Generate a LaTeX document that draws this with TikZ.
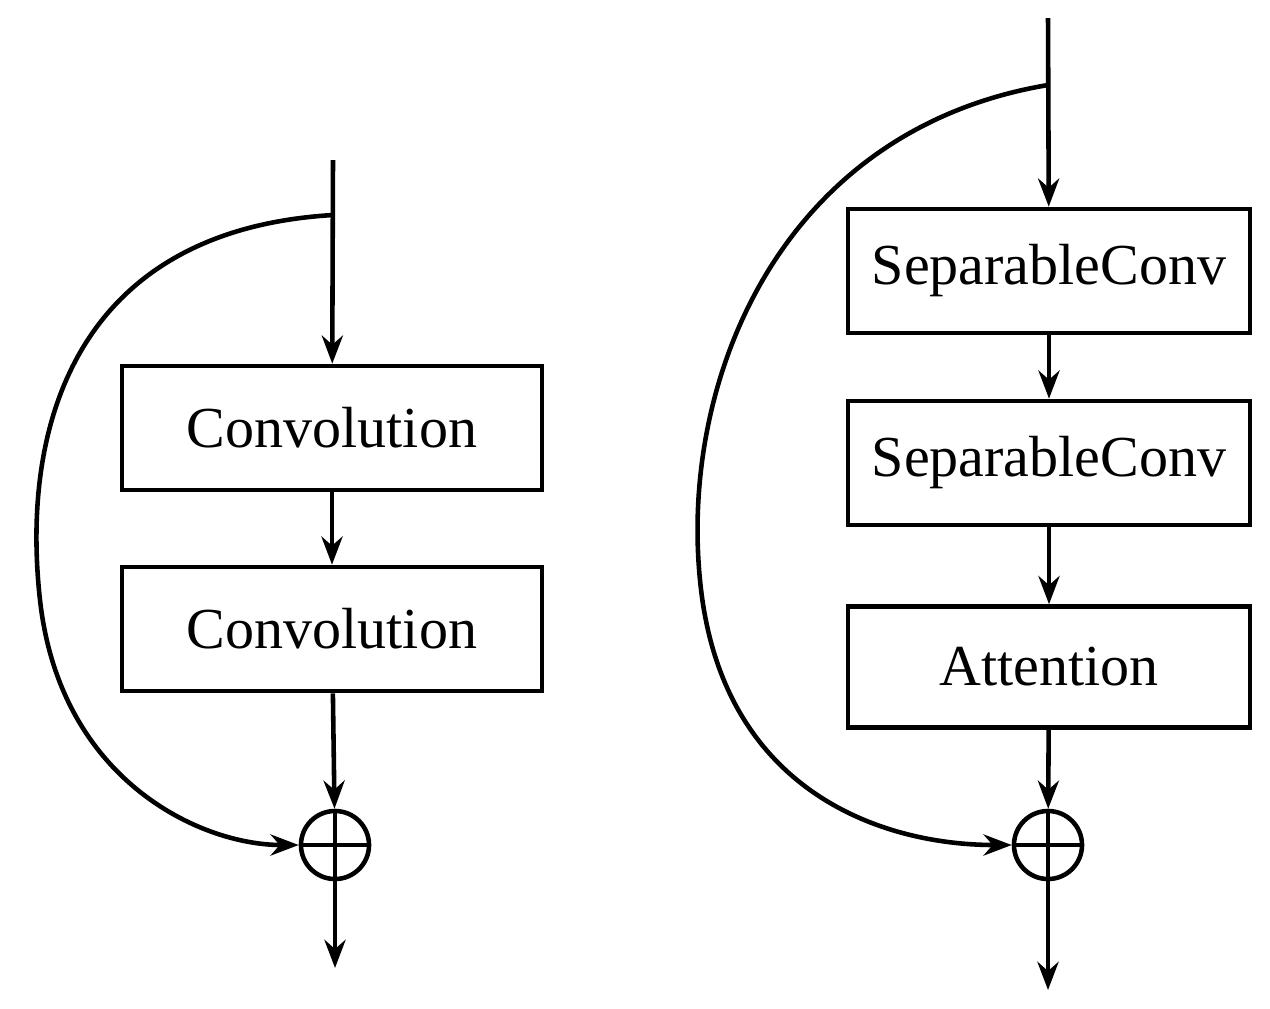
\documentclass[tikz,border=0pt]{standalone}
\usepackage{fontspec}
\setmainfont{Liberation Serif}
\usetikzlibrary{arrows.meta}
\begin{document}
\begin{tikzpicture}
[
  x=0.01cm, y=-0.01cm,
  block/.style = {draw, line width=1.3pt, minimum width=4.2cm, minimum height=1.24cm, font=\fontsize{16.5}{18}\selectfont, inner sep=0pt},
  sum/.style = {draw, circle, line width=1.3pt, minimum size=0.68cm, inner sep=0pt},
  flow/.style = {line width=1.3pt, -{Stealth[length=8pt,width=6pt]}},
]
\useasboundingbox (0,0) rectangle (1270,1008);

%left block
\coordinate (Lin) at (333,160);
\coordinate (Lsplit) at (333,215);
\node[block] (conva) at (332,428) {Convolution};
\node[block] (convb) at (332,629) {Convolution};
\node[sum] (Lsum) at (335,845) {};
\draw[line width=1.3pt] (Lsum.north) -- (Lsum.south) (Lsum.west) -- (Lsum.east);
\coordinate (Lout) at (335,968);
\draw[flow] (Lin) -- (conva);
\draw[flow] (conva) -- (convb);
\draw[flow] (convb) -- (Lsum);
\draw[flow] (Lsum) -- (Lout);
\draw[flow] (Lsplit) .. controls (80,230) and (20,420) .. (40,600)
  .. controls (60,780) and (200,845) .. (Lsum.west);

%right block
\coordinate (Rin) at (1048,18);
\coordinate (Rsplit) at (1048,85);
\node[block, minimum width=4.02cm] (sepa) at (1049,271) {SeparableConv};
\node[block, minimum width=4.02cm] (sepb) at (1049,463) {SeparableConv};
\node[block, minimum width=4.02cm, minimum height=1.21cm] (att) at (1049,667) {Attention};
\node[sum] (Rsum) at (1048,845) {};
\draw[line width=1.3pt] (Rsum.north) -- (Rsum.south) (Rsum.west) -- (Rsum.east);
\coordinate (Rout) at (1048,990);
\draw[flow] (Rin) -- (sepa);
\draw[flow] (sepa) -- (sepb);
\draw[flow] (sepb) -- (att);
\draw[flow] (att) -- (Rsum);
\draw[flow] (Rsum) -- (Rout);
\draw[flow] (Rsplit) .. controls (780,130) and (680,380) .. (700,580)
  .. controls (720,790) and (880,845) .. (Rsum.west);
\end{tikzpicture}
\end{document}
